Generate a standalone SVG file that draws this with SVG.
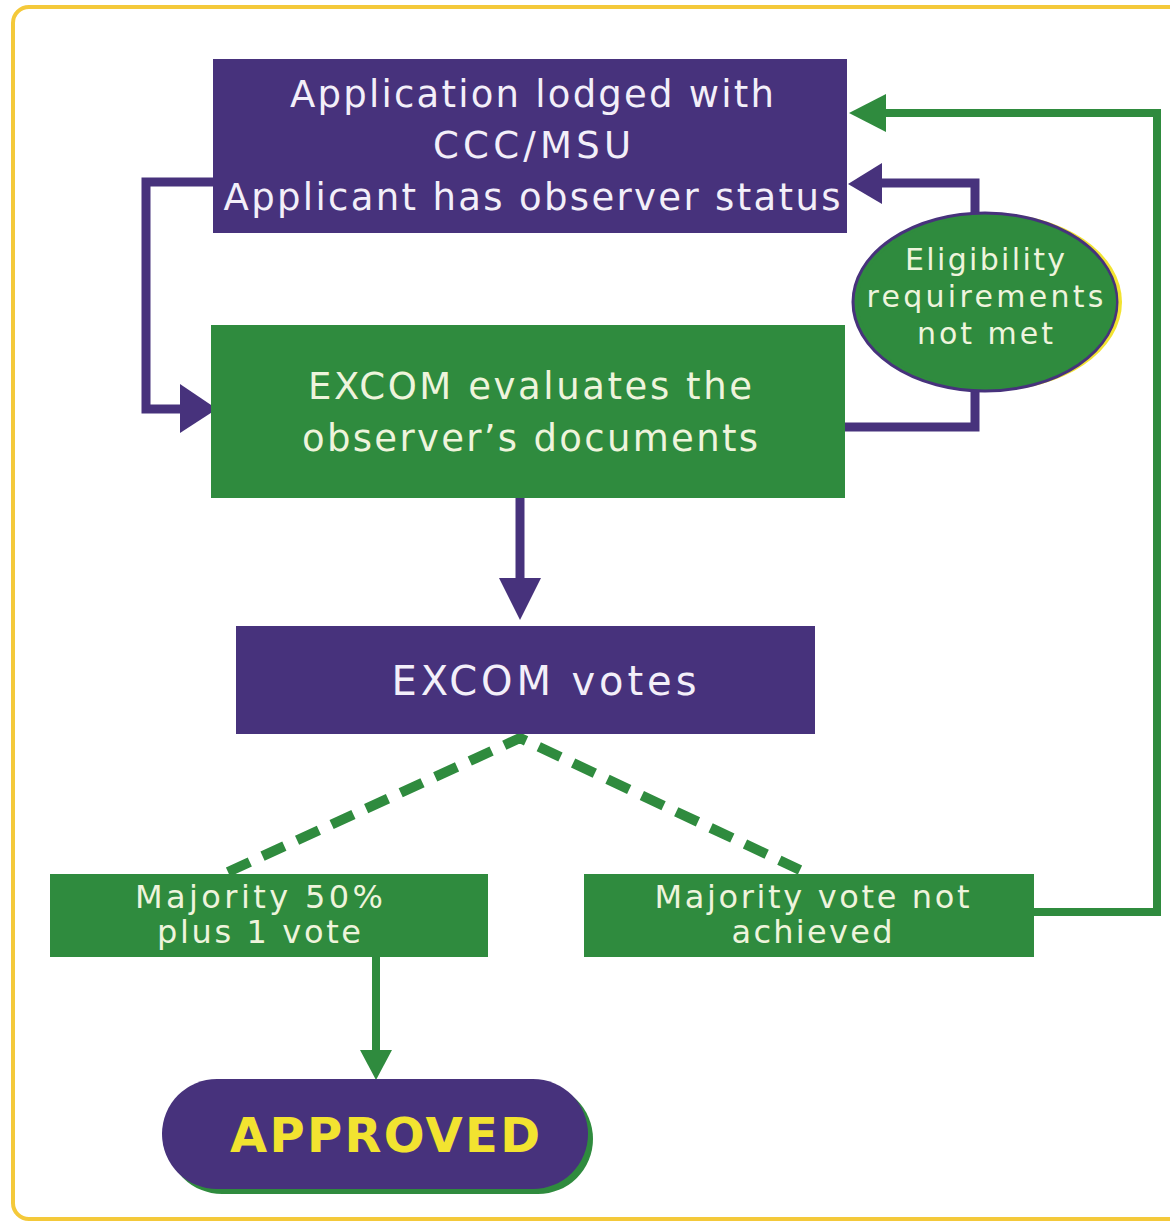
<svg xmlns="http://www.w3.org/2000/svg" width="1170" height="1222" viewBox="0 0 1170 1222">
<style>
.t{font-family:"DejaVu Sans","Liberation Sans",sans-serif;text-anchor:middle}
.big{font-size:37px}
.mid{font-size:32px}
.ell{font-size:30px}
.onP{fill:#f3eff9}
.onG{fill:#eef4dc}
.purple{fill:#47327c}
.green{fill:#2f8b3e}
.lp{stroke:#47327c;stroke-width:9;fill:none}
.lg{stroke:#2f8b3e;stroke-width:8;fill:none}
</style>
<rect width="1170" height="1222" fill="#ffffff"/>
<rect x="13" y="7" width="1180" height="1212" rx="16" fill="none" stroke="#f4c93a" stroke-width="4"/>
<g id="connectors">
  <polyline class="lp" points="213,182 146,182 146,409 182,409"/>
  <polygon class="purple" points="180,384 180,433 217,409"/>
  <polyline class="lp" points="845,427 975,427 975,183 878,183"/>
  <polygon class="purple" points="882,163 882,204 848,184"/>
  <line class="lp" x1="520" y1="498" x2="520" y2="582"/>
  <polygon class="purple" points="499,578 541,578 520,620"/>
  <polyline class="lg" points="1034,912 1157,912 1157,113 882,113"/>
  <polygon class="green" points="886,94 886,132 849,113"/>
  <polyline points="228,872 520,738 800,870" fill="none" stroke="#2f8b3e" stroke-width="10" stroke-dasharray="24 14"/>
  <line class="lg" x1="376" y1="957" x2="376" y2="1052"/>
  <polygon class="green" points="360,1050 392,1050 376,1080"/>
</g>
<g id="node-application">
  <rect class="purple" x="213" y="59" width="634" height="174"/>
  <text class="t big onP" x="532" y="107" textLength="484" lengthAdjust="spacing">Application lodged with</text>
  <text class="t big onP" x="532" y="158" textLength="198" lengthAdjust="spacing">CCC/MSU</text>
  <text class="t big onP" x="532" y="210" textLength="617" lengthAdjust="spacing">Applicant has observer status</text>
</g>
<g id="node-eligibility">
  <ellipse cx="991" cy="302" rx="131" ry="89" fill="#f2e330"/>
  <ellipse cx="985" cy="302" rx="132" ry="89" fill="#2f8b3e" stroke="#47327c" stroke-width="3"/>
  <ellipse cx="987" cy="302" rx="129" ry="86" fill="#2f8b3e"/>
  <text class="t ell onG" x="985" y="270" textLength="160" lengthAdjust="spacing">Eligibility</text>
  <text class="t ell onG" x="985" y="307" textLength="237" lengthAdjust="spacing">requirements</text>
  <text class="t ell onG" x="985" y="344" textLength="136" lengthAdjust="spacing">not met</text>
</g>
<g id="node-evaluate">
  <rect class="green" x="211" y="325" width="634" height="173"/>
  <text class="t big onG" x="530" y="399" textLength="444" lengthAdjust="spacing">EXCOM evaluates the</text>
  <text class="t big onG" x="530" y="451" textLength="456" lengthAdjust="spacing">observer’s documents</text>
</g>
<g id="node-votes">
  <rect class="purple" x="236" y="626" width="579" height="108"/>
  <text class="t onP" x="544" y="695" font-size="40" textLength="305" lengthAdjust="spacing">EXCOM votes</text>
</g>
<g id="node-majority">
  <rect class="green" x="50" y="874" width="438" height="83"/>
  <text class="t mid onG" x="259" y="908" textLength="248" lengthAdjust="spacing">Majority 50%</text>
  <text class="t mid onG" x="259" y="943" textLength="204" lengthAdjust="spacing">plus 1 vote</text>
</g>
<g id="node-not-achieved">
  <rect class="green" x="584" y="874" width="450" height="83"/>
  <text class="t mid onG" x="812" y="908" textLength="315" lengthAdjust="spacing">Majority vote not</text>
  <text class="t mid onG" x="812" y="943" textLength="161" lengthAdjust="spacing">achieved</text>
</g>
<g id="node-approved">
  <rect class="green" x="167" y="1084" width="426" height="110" rx="55"/>
  <rect class="purple" x="162" y="1079" width="426" height="110" rx="55"/>
  <text class="t" x="385" y="1152" font-size="48" font-weight="bold" fill="#f2e330" textLength="310" lengthAdjust="spacing">APPROVED</text>
</g>
</svg>
